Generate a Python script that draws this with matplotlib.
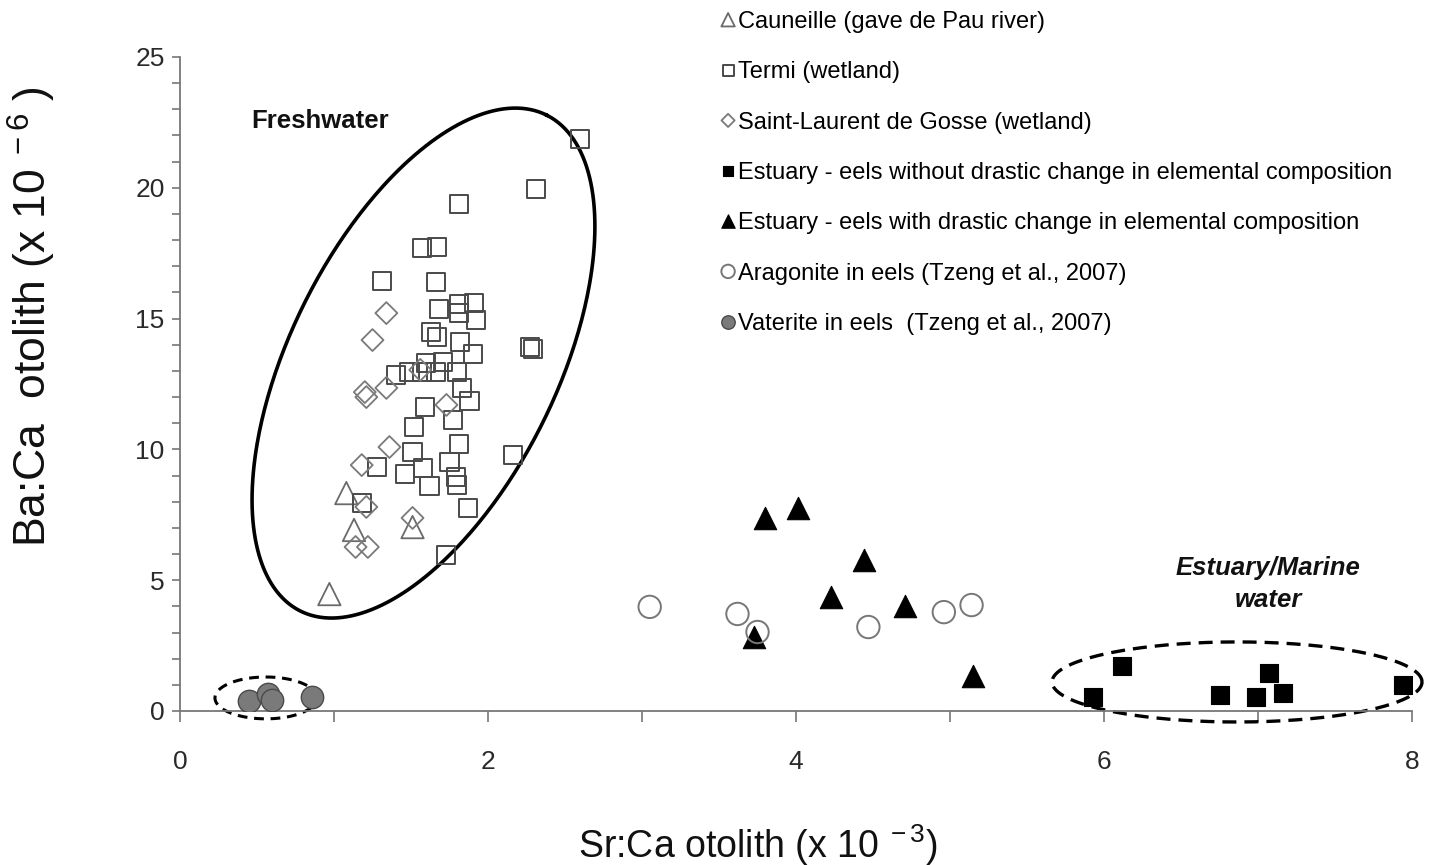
import numpy as np
import matplotlib
matplotlib.use("Agg")
import matplotlib.pyplot as plt

plt.rcParams['font.family'] = ['Liberation Sans', 'DejaVu Sans']
plt.rcParams['mathtext.fontset'] = 'custom'
plt.rcParams['mathtext.rm'] = 'Liberation Sans'
plt.rcParams['mathtext.it'] = 'Liberation Sans:italic'
plt.rcParams['mathtext.bf'] = 'Liberation Sans:bold'

# ---------------- data ----------------
caunelle_x = [0.97, 1.08, 1.13, 1.51]
caunelle_y = [4.47, 8.33, 6.92, 7.03]

termi_x = [2.60, 2.31, 1.81, 1.57, 1.67, 1.31, 1.66, 1.68, 1.81, 1.91, 1.81, 1.92,
           1.63, 1.67, 1.82, 2.27, 2.29, 1.90, 1.71, 1.60, 1.40, 1.49, 1.57, 1.66,
           1.80, 1.83, 1.88, 1.59, 1.77, 1.52, 1.81, 1.51, 2.16, 1.75, 1.28, 1.58,
           1.46, 1.79, 1.80, 1.62, 1.18, 1.87, 1.73]
termi_y = [21.87, 19.95, 19.38, 17.70, 17.74, 16.44, 16.40, 15.37, 15.56, 15.60, 15.21, 14.95,
           14.49, 14.30, 14.11, 13.91, 13.84, 13.65, 13.34, 13.30, 12.84, 12.96, 12.96, 12.96,
           12.96, 12.35, 11.85, 11.62, 11.12, 10.86, 10.21, 9.90, 9.79, 9.52, 9.33, 9.29,
           9.06, 8.94, 8.64, 8.60, 7.95, 7.76, 5.98]

slg_x = [1.34, 1.25, 1.20, 1.21, 1.34, 1.73, 1.36, 1.18, 1.21, 1.51, 1.14, 1.22, 1.56]
slg_y = [15.21, 14.18, 12.19, 12.00, 12.35, 11.70, 10.09, 9.40, 7.80, 7.38, 6.27, 6.27, 13.04]

est_nochange_x = [5.93, 6.12, 6.75, 6.99, 7.07, 7.16, 7.94]
est_nochange_y = [0.54, 1.72, 0.61, 0.54, 1.45, 0.69, 0.99]

est_change_x = [3.80, 4.01, 4.44, 4.23, 4.71, 3.73, 5.15]
est_change_y = [7.38, 7.76, 5.77, 4.36, 4.01, 2.83, 1.34]

aragonite_x = [3.05, 3.62, 3.75, 4.47, 4.96, 5.14]
aragonite_y = [3.98, 3.71, 3.02, 3.21, 3.78, 4.05]

vaterite_x = [0.45, 0.57, 0.60, 0.86]
vaterite_y = [0.38, 0.65, 0.42, 0.54]

labels = ["Cauneille (gave de Pau river)",
          "Termi (wetland)",
          "Saint-Laurent de Gosse (wetland)",
          "Estuary - eels without drastic change in elemental composition",
          "Estuary - eels with drastic change in elemental composition",
          "Aragonite in eels (Tzeng et al., 2007)",
          "Vaterite in eels  (Tzeng et al., 2007)"]

x_ticks = [0, 2, 4, 6, 8]
y_ticks = [0, 5, 10, 15, 20, 25]

# ---------------- figure ----------------
W, H = 1442, 865
fig = plt.figure(figsize=(W / 100, H / 100), dpi=100)
ax = fig.add_axes([180 / W, (H - 711) / H, 1232 / W, 654 / H])
ax.set_xlim(0, 8)
ax.set_ylim(0, 25)

h1 = ax.scatter(caunelle_x, caunelle_y, marker='^', s=260, facecolors='none',
                edgecolors='#6a6a6a', linewidths=1.3, zorder=3)
h2 = ax.scatter(termi_x, termi_y, marker='s', s=170, facecolors='none',
                edgecolors='#4a4a4a', linewidths=1.4, zorder=3)
h3 = ax.scatter(slg_x, slg_y, marker='D', s=125, facecolors='none',
                edgecolors='#7a7a7a', linewidths=1.3, zorder=3)
h4 = ax.scatter(est_nochange_x, est_nochange_y, marker='s', s=150, facecolors='black',
                edgecolors='black', linewidths=0.8, zorder=3)
h5 = ax.scatter(est_change_x, est_change_y, marker='^', s=260, facecolors='black',
                edgecolors='black', linewidths=0.8, zorder=3)
h6 = ax.scatter(aragonite_x, aragonite_y, marker='o', s=260, facecolors='none',
                edgecolors='#777777', linewidths=1.4, zorder=3)
h7 = ax.scatter(vaterite_x, vaterite_y, marker='o', s=260, facecolors='#7a7a7a',
                edgecolors='#4a4a4a', linewidths=1.0, zorder=3)

# ---------------- ellipses (annotations) ----------------
t = np.linspace(0, 2 * np.pi, 400)
cx, cy = 1.581, 13.30
ux, uy = 0.799, 9.48
vx, vy = -0.775, 2.267
ax.plot(cx + ux * np.cos(t) + vx * np.sin(t), cy + uy * np.cos(t) + vy * np.sin(t),
        color='black', lw=2.6, clip_on=False, zorder=2)
ax.plot(6.864 + 1.201 * np.cos(t), 1.11 + 1.53 * np.sin(t), color='black', lw=2.4,
        ls=(0, (4.2, 2.4)), clip_on=False, zorder=2)
ax.plot(0.558 + 0.331 * np.cos(t), 0.50 + 0.80 * np.sin(t), color='black', lw=2.2,
        ls=(0, (3.2, 2.2)), clip_on=False, zorder=2)

ax.text(0.909, 22.55, "Freshwater", fontsize=18.5, fontweight='bold', ha='center',
        va='center', color='#111111')
ax.text(7.065, 5.47, "Estuary/Marine", fontsize=18.5, fontweight='bold',
        fontstyle='italic', ha='center', va='center', color='#111111')
ax.text(7.065, 4.24, "water", fontsize=18.5, fontweight='bold',
        fontstyle='italic', ha='center', va='center', color='#111111')

# ---------------- axes styling ----------------
for side in ('top', 'right'):
    ax.spines[side].set_visible(False)
for side in ('left', 'bottom'):
    ax.spines[side].set_color('#777777')
    ax.spines[side].set_linewidth(1.3)

ax.set_xticks(x_ticks)
ax.set_yticks(y_ticks)
ax.set_xticks(np.arange(0, 9, 1), minor=True)
ax.set_yticks(np.arange(0, 26, 1), minor=True)
ax.tick_params(axis='both', which='both', direction='out', color='#777777', width=1.2)
ax.tick_params(axis='x', which='both', length=8)
ax.tick_params(axis='y', which='both', length=6)
ax.tick_params(axis='both', which='major', labelsize=19, labelcolor='#2a2a2a')
ax.tick_params(axis='x', which='major', pad=20)
ax.tick_params(axis='y', which='major', pad=5)

fig.text(758 / W, 1 - 845 / H, "Sr:Ca otolith (x 10$^{\\ -3}$)", fontsize=27,
         ha='center', va='center', color='#111111')
fig.text(32 / W, 1 - 317 / H, "Ba:Ca  otolith (x 10$^{\\ -6}$ )", fontsize=32,
         ha='center', va='center', rotation=90, color='#111111')

# ---------------- legend ----------------
fig.legend([h1, h2, h3, h4, h5, h6, h7], labels, loc='upper left',
           bbox_to_anchor=(721 / W, 1 - 11 / H), bbox_transform=fig.transFigure,
           frameon=False, borderpad=0, borderaxespad=0, handlelength=0.6,
           handletextpad=0.12, labelspacing=1.2, fontsize=17, markerscale=0.6,
           scatteryoffsets=[0.5])

fig.savefig("out.png", dpi=100)
